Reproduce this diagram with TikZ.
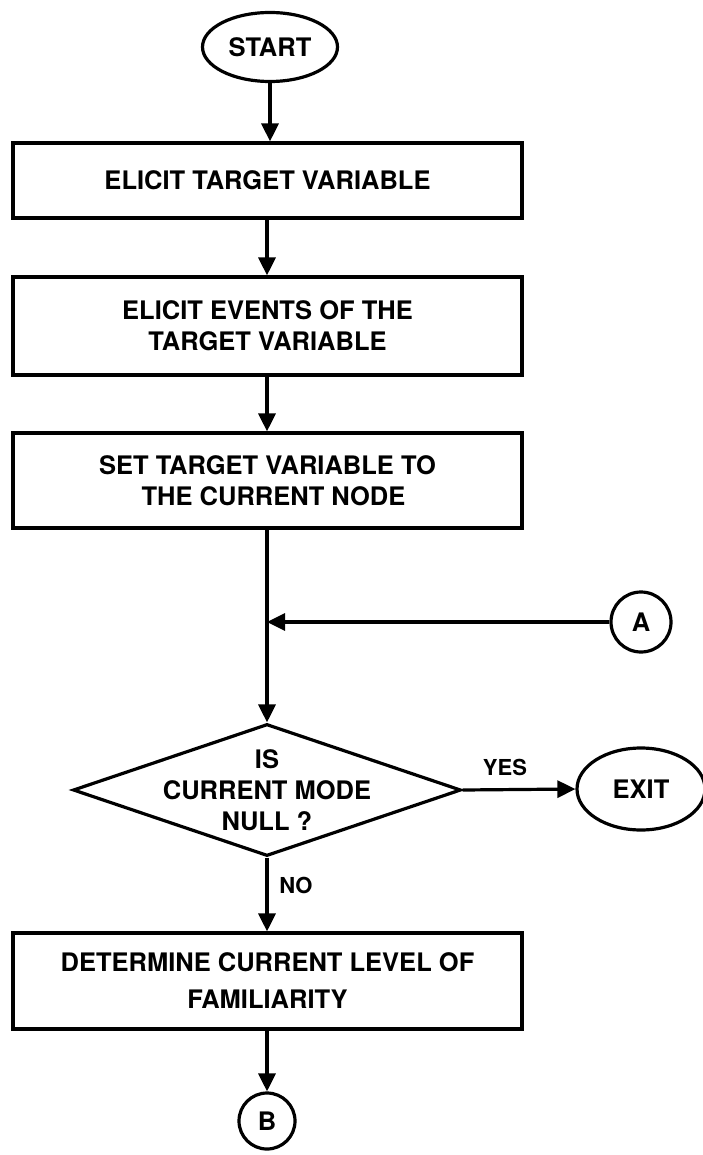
\documentclass[tikz,border=0pt]{standalone}
\usepackage{fontspec}
\setmainfont{TeX Gyre Heros}
\usetikzlibrary{shapes.geometric,arrows.meta}
\begin{document}
\begin{tikzpicture}[x=1pt,y=-1pt, line width=3.2pt,
  every node/.style={font=\fontsize{25.5}{31}\selectfont\bfseries},
  procbox/.style={draw, rectangle, minimum width=509pt, align=center, inner sep=0pt},
  term/.style={draw, ellipse, inner sep=0pt},
  conn/.style={draw, circle, inner sep=0pt, minimum size=60pt},
  arr/.style={-{Triangle[length=18pt,width=17pt]}},
  lbl/.style={font=\fontsize{22}{25}\selectfont\bfseries, inner sep=0pt}
]
\useasboundingbox (0,0) rectangle (703,1155);
\node[term, minimum width=135pt, minimum height=69pt] (start) at (270,47) {START};
\node[procbox, minimum height=75pt] (b1) at (267.5,180.5) {ELICIT TARGET VARIABLE};
\node[procbox, minimum height=98pt] (b2) at (267.5,326) {ELICIT EVENTS OF THE\\TARGET VARIABLE};
\node[procbox, minimum height=95pt] (b3) at (267.5,480.5) {SET TARGET VARIABLE TO\\\hspace*{12pt}THE CURRENT NODE};
\node[conn] (ca) at (641,622) {A};
\node[diamond, draw, minimum width=388pt, minimum height=132pt, inner sep=0pt] (dec) at (267,790) {};
\node[align=center, inner sep=0pt] (dectxt) at (dec.center) {IS\\CURRENT MODE\\NULL ?};
\node[term, minimum width=128pt, minimum height=82pt] (exit) at (641,789) {EXIT};
\node[procbox, minimum height=96pt] (b4) at (267.5,981) {DETERMINE CURRENT LEVEL OF\\[6pt]FAMILIARITY};
\node[conn, minimum size=56pt] (cb) at (267,1121) {B};
\node[lbl] (yes) at (505,767) {YES};
\node[lbl] (no) at (296,885) {NO};
\coordinate (j) at (dec.north |- ca);
\draw[arr] (start.south) -- (start.south |- b1.north);
\draw[arr] (b1.south -| dec.north) -- (b2.north -| dec.north);
\draw[arr] (b2.south -| dec.north) -- (b3.north -| dec.north);
\draw[arr] (b3.south -| dec.north) -- (dec.north);
\draw[arr] (ca.west) -- (j);
\draw[arr] (dec.east) -- (exit.west);
\draw[arr] (dec.south) -- (b4.north -| dec.south);
\draw[arr] (b4.south -| cb.north) -- (cb.north);
\end{tikzpicture}
\end{document}
